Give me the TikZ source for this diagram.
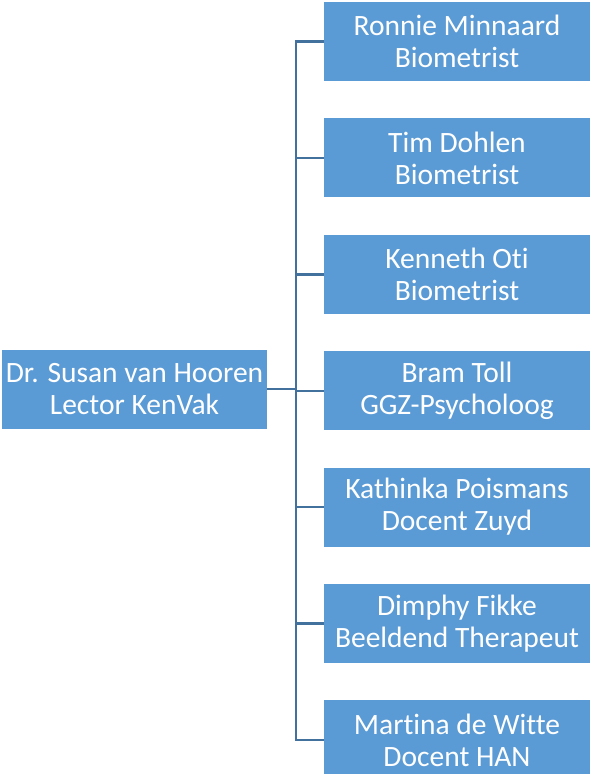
\documentclass[tikz,border=0pt]{standalone}
\usepackage{fontspec}
\setmainfont[Ligatures=NoCommon]{Carlito}
\usetikzlibrary{positioning}
\definecolor{boxblue}{HTML}{5B9BD5}
\definecolor{lineblue}{HTML}{41719C}
\tikzset{
  member/.style={fill=boxblue,text=white,minimum width=266pt,minimum height=79pt,
    inner sep=0pt,align=center,font=\fontsize{29.5}{32}\selectfont},
  link/.style={draw=lineblue,line width=2.4pt}
}

\begin{document}
\begin{tikzpicture}[node distance=37pt]
\useasboundingbox (0,0) rectangle (590pt,-774pt);
\node[member,minimum width=265pt] (lead) at (134.5pt,-389pt) {Dr. Susan van Hooren\\Lector KenVak};
\node[member] (m1) at (457pt,-41.5pt) {Ronnie Minnaard\\Biometrist};
\node[member,below=of m1] (m2) {Tim Dohlen\\Biometrist};
\node[member,below=of m2] (m3) {Kenneth Oti\\Biometrist};
\node[member,below=of m3] (m4) {Bram Toll\\GGZ-Psycholoog};
\node[member,below=of m4] (m5) {Kathinka Poismans\\Docent Zuyd};
\node[member,below=of m5] (m6) {Dimphy Fikke\\Beeldend Therapeut};
\node[member,below=of m6] (m7) {Martina de Witte\\Docent HAN};
\coordinate (trunk) at (296pt,0);
\draw[link] (m1.west) -- (m1.west -| trunk) -- (m7.west -| trunk) -- (m7.west);
\draw[link] (lead.east) -- (lead.east -| trunk);
\draw[link] (m2.west) -- (m2.west -| trunk);
\draw[link] (m3.west) -- (m3.west -| trunk);
\draw[link] (m4.west) -- (m4.west -| trunk);
\draw[link] (m5.west) -- (m5.west -| trunk);
\draw[link] (m6.west) -- (m6.west -| trunk);
\end{tikzpicture}
\end{document}
